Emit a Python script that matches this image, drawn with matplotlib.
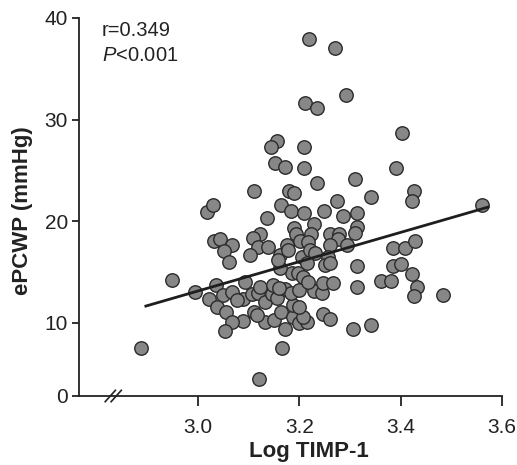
import numpy as np
import matplotlib
matplotlib.use('Agg')
import matplotlib.pyplot as plt

plt.rcParams['font.family'] = ['Liberation Sans', 'DejaVu Sans']
plt.rcParams['mathtext.fontset'] = 'custom'
plt.rcParams['mathtext.it'] = 'Liberation Sans:italic'
plt.rcParams['mathtext.rm'] = 'Liberation Sans'

# Log TIMP-1 (x) and ePCWP in mmHg (y)
log_timp1 = [
    3.219, 3.270, 3.292, 3.211, 3.235, 3.402, 3.156, 3.144, 3.209, 3.152,
    3.172, 3.209, 3.391, 3.235, 3.310, 3.110, 3.179, 3.189, 3.341, 3.426,
    3.422, 3.560, 3.164, 3.183, 3.209, 3.274, 3.249, 3.286, 3.314, 3.136,
    3.229, 3.189, 3.314, 3.310, 3.122, 3.108, 3.193, 3.223, 3.260, 3.278,
    3.276, 3.018, 3.030, 3.032, 3.043, 3.067, 3.051, 3.061, 3.118, 3.138,
    3.176, 3.201, 3.217, 3.260, 3.294, 3.103, 3.162, 3.178, 3.205, 3.221,
    3.231, 3.256, 3.385, 3.408, 3.428, 3.314, 3.385, 3.400, 3.422, 3.361,
    3.381, 3.314, 3.432, 3.426, 3.483, 3.341, 3.306, 3.247, 3.260, 3.172,
    3.166, 3.120, 3.089, 3.110, 3.132, 3.150, 3.164, 3.187, 3.199, 3.215,
    3.207, 3.187, 3.199, 3.089, 3.107, 3.118, 3.132, 3.146, 3.156, 3.172,
    3.183, 3.199, 3.229, 3.245, 3.247, 3.266, 3.093, 3.122, 3.148, 3.160,
    3.185, 3.197, 3.207, 3.217, 3.162, 3.158, 3.250, 3.260, 3.215, 2.949,
    2.994, 2.888, 3.036, 3.022, 3.049, 3.067, 3.077, 3.037, 3.055, 3.067,
    3.053, 3.116,
]
epcwp = [
    37.9, 37.0, 32.4, 31.6, 31.1, 28.7, 27.9, 27.3, 27.3, 25.7,
    25.3, 25.2, 25.2, 23.8, 24.2, 23.0, 23.0, 22.8, 22.4, 23.0,
    22.0, 21.6, 21.6, 21.0, 20.8, 22.0, 21.0, 20.5, 20.8, 20.3,
    19.7, 19.3, 19.4, 18.9, 18.8, 18.4, 18.75, 18.8, 18.8, 18.8,
    18.3, 20.9, 21.6, 18.1, 18.3, 17.7, 17.1, 16.0, 17.5, 17.5,
    17.7, 18.1, 18.0, 17.7, 17.7, 16.7, 16.7, 17.2, 16.5, 17.2,
    16.9, 16.5, 17.4, 17.4, 18.1, 15.6, 15.6, 15.8, 14.8, 14.1,
    14.1, 13.5, 13.5, 12.65, 12.75, 9.73, 9.18, 10.9, 10.4, 9.18,
    6.58, 2.33, 10.2, 11.1, 10.1, 10.3, 11.1, 10.6, 10.0, 10.1,
    10.6, 11.8, 11.6, 12.4, 12.85, 12.95, 12.1, 12.85, 12.5, 13.3,
    12.95, 13.2, 13.15, 12.95, 13.9, 13.9, 14.0, 13.5, 13.7, 13.4,
    14.9, 14.9, 14.5, 14.0, 15.4, 16.2, 15.7, 15.9, 15.9, 14.2,
    13.05, 6.58, 13.7, 12.4, 12.75, 13.05, 12.3, 11.6, 11.1, 10.1,
    8.9, 10.8,
]

# fitted line
fit_slope = 14.41
fit_intercept = -30.08
fit_x = [2.897, 3.572]

x_ticks = [3.0, 3.2, 3.4, 3.6]
x_ticklabels = ['3.0', '3.2', '3.4', '3.6']
y_ticks = [0, 10, 20, 30, 40]
stats_r = 'r=0.349'
stats_p = r'$\mathit{P}$<0.001'

# the 0-10 band of the y axis is drawn shorter than the rest
K = 0.718


def fwd(y):
    y = np.asarray(y, dtype=float)
    return np.where(y >= 10, y, 10 - (10 - y) * K)


def inv(z):
    z = np.asarray(z, dtype=float)
    return np.where(z >= 10, z, 10 - (10 - z) / K)


fig = plt.figure(figsize=(5.17, 4.65), dpi=100)
ax = fig.add_axes([0.1528, 0.1484, 0.8182, 0.8129])

ax.set_yscale('function', functions=(fwd, inv))
ax.scatter(log_timp1, epcwp, s=94, facecolor='#878787', edgecolor='#2b2b2b',
           linewidth=1.0, zorder=2, clip_on=False)

fx = np.array(fit_x)
ax.plot(fx, fit_slope * fx + fit_intercept, color='#1e1e1e', lw=2.0, zorder=3)

ax.set_xlim(2.765, 3.6)
ax.set_ylim(0, 40)
ax.set_xticks(x_ticks)
ax.set_xticklabels(x_ticklabels)
ax.set_yticks(y_ticks)
ax.minorticks_off()

for s in ['top', 'right']:
    ax.spines[s].set_visible(False)
for s in ['left', 'bottom']:
    ax.spines[s].set_linewidth(1.3)
    ax.spines[s].set_color('#222222')
ax.tick_params(axis='both', labelsize=15, width=1.3, color='#222222',
               labelcolor='#222222')
ax.tick_params(axis='y', length=5, pad=3)
ax.tick_params(axis='x', length=7.5, pad=8)

ax.set_xlabel('Log TIMP-1', fontsize=16, fontweight='bold', color='#222222')
ax.set_ylabel('ePCWP (mmHg)', fontsize=16, fontweight='bold', color='#222222')
ax.xaxis.set_label_coords(0.544, -0.12)
ax.yaxis.set_label_coords(-0.108, 0.49)

# axis break marks on the x axis
for bx in [0.074, 0.088]:
    ax.plot([bx - 0.012, bx + 0.012], [-0.015, 0.015], transform=ax.transAxes,
            color='#222222', lw=1.2, clip_on=False)

ax.text(0.054, 0.968, stats_r, transform=ax.transAxes, fontsize=14.5,
        va='center', ha='left', color='#222222')
ax.text(0.054, 0.902, stats_p, transform=ax.transAxes, fontsize=14.5,
        va='center', ha='left', color='#222222')

fig.savefig('out.png', dpi=100)
